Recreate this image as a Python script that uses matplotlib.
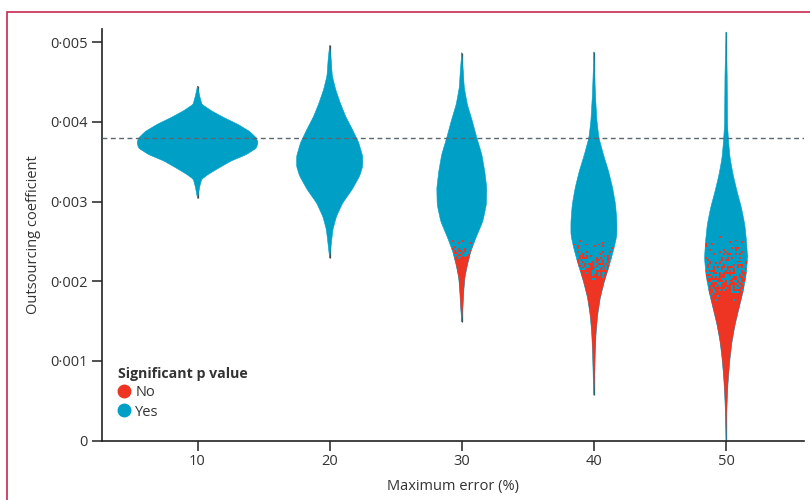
import numpy as np
import matplotlib
matplotlib.use('Agg')
import matplotlib.pyplot as plt
from matplotlib.patches import Polygon, Rectangle
from matplotlib.lines import Line2D

plt.rcParams['font.family'] = ['Open Sans', 'DejaVu Sans']

# ---------------- data ----------------
groups = [10, 20, 30, 40, 50]
y_ticks = [0, 0.001, 0.002, 0.003, 0.004, 0.005]
y_tick_labels = ['0', '0·001', '0·002', '0·003', '0·004', '0·005']
reference_value = 0.0038

# violin outlines: coefficient levels (top -> bottom) and half-widths (x units)
v10_y = [0.00445, 0.00432, 0.00422, 0.00414, 0.00405, 0.00397, 0.00388, 0.00380, 0.00374,
         0.00367, 0.00359, 0.00351, 0.00342, 0.00334, 0.00328, 0.00319, 0.00304]
v10_w = [0, 0.17, 0.34, 1.05, 2.05, 3.05, 3.95, 4.45, 4.58, 4.45, 3.70, 2.55, 1.60, 0.80,
         0.32, 0.17, 0]
v20_y = [0.00496, 0.00479, 0.00458, 0.00441, 0.00424, 0.00407, 0.00390, 0.00374, 0.00357,
         0.00344, 0.00332, 0.00315, 0.00298, 0.00281, 0.00265, 0.00248, 0.00229]
v20_w = [0, 0.11, 0.20, 0.45, 0.80, 1.21, 1.74, 2.20, 2.50, 2.50, 2.27, 1.70, 0.98, 0.51,
         0.25, 0.13, 0]
v30_y = [0.00487, 0.00464, 0.00443, 0.00422, 0.00401, 0.00380, 0.00359, 0.00338, 0.00317,
         0.00296, 0.00275, 0.00254, 0.00237, 0.00220, 0.00204, 0.00187, 0.00166, 0.00149]
v30_w = [0, 0.11, 0.19, 0.42, 0.80, 1.14, 1.52, 1.74, 1.89, 1.86, 1.59, 1.06, 0.68, 0.42,
         0.23, 0.15, 0.08, 0]
v40_y = [0.00488, 0.00435, 0.00401, 0.00380, 0.00359, 0.00338, 0.00317, 0.00296, 0.00275,
         0.00258, 0.00241, 0.00220, 0.00199, 0.00179, 0.00157, 0.00136, 0.00111, 0.00078,
         0.00057]
v40_w = [0, 0.11, 0.23, 0.38, 0.72, 1.11, 1.42, 1.64, 1.74, 1.74, 1.52, 1.17, 0.78, 0.48,
         0.28, 0.17, 0.10, 0.05, 0]
v50_y = [0.00513, 0.00460, 0.00397, 0.00376, 0.00355, 0.00334, 0.00313, 0.00292, 0.00271,
         0.00250, 0.00229, 0.00208, 0.00187, 0.00166, 0.00145, 0.00124, 0.00103, 0.00082,
         0.00061, 0.00036, 0.00001]
v50_w = [0, 0.08, 0.11, 0.19, 0.30, 0.53, 0.83, 1.17, 1.42, 1.55, 1.63, 1.52, 1.29, 0.98,
         0.68, 0.45, 0.30, 0.19, 0.11, 0.05, 0]

# non-significant ("No") zone: first red points / fully red below
red_start = [None, None, 0.00256, 0.00258, 0.00264]
red_full = [None, None, 0.00222, 0.00200, 0.00174]

outline_y = [v10_y, v20_y, v30_y, v40_y, v50_y]
outline_w = [v10_w, v20_w, v30_w, v40_w, v50_w]

# ---------------- style ----------------
BLUE = '#00A0C6'
RED = '#EE3524'
TXT = '#333333'

fig = plt.figure(figsize=(8.1, 5.0), dpi=100)
ax = fig.add_axes([0.1259, 0.119, 0.8667, 0.8224])

XLIM = (2.77, 55.9)
YLIM = (0, 0.005163)


def smooth_outline(ys, ws):
    ys = np.asarray(ys)[::-1]
    ws = np.asarray(ws)[::-1]
    fine = np.linspace(ys[0], ys[-1], 400)
    w = np.interp(fine, ys, ws)
    k = np.ones(9) / 9
    wpad = np.pad(w, 4, mode='edge')
    w = np.convolve(wpad, k, mode='valid')
    w[0] = 0
    w[-1] = 0
    return fine, w


# deterministic hash texture used as a dithering threshold (speckle look)
def threshold_map(nr, nc, offset):
    i = np.arange(nr)[:, None].astype(float) + offset
    j = np.arange(nc)[None, :].astype(float) + 3.1 * offset
    v = np.sin(i * 12.9898 + j * 78.233) * 43758.5453
    return v - np.floor(v)


for g, ys, ws, rs, rf in zip(groups, outline_y, outline_w, red_start, red_full):
    # thin dark range line
    ax.plot([g, g], [min(ys), max(ys)], color='#444444', lw=0.9, zorder=2,
            solid_capstyle='butt')
    fy, fw = smooth_outline(ys, ws)
    xs = np.concatenate([g - fw, (g + fw)[::-1]])
    yy = np.concatenate([fy, fy[::-1]])
    poly = Polygon(np.column_stack([xs, yy]), closed=True, facecolor=BLUE,
                   edgecolor=BLUE, lw=0.4, zorder=3)
    ax.add_patch(poly)
    if rs is not None:
        maxw = max(ws)
        y0, y1 = min(ys), rs
        px_w = 2 * maxw * 13.21
        px_h = (y1 - y0) * 79640
        nc = max(int(px_w / 1.9), 2)
        nr = max(int(px_h / 1.9), 2)
        yc = y1 - (np.arange(nr) + 0.5) / nr * (y1 - y0)
        frac = np.clip((rs - yc) / (rs - rf), 0, 1) ** 1.6
        thr = threshold_map(nr, nc, g)
        mask = frac[:, None] > thr
        rgba = np.zeros((nr, nc, 4))
        rgb = matplotlib.colors.to_rgb(RED)
        rgba[..., 0] = rgb[0]
        rgba[..., 1] = rgb[1]
        rgba[..., 2] = rgb[2]
        rgba[..., 3] = mask.astype(float)
        im = ax.imshow(rgba, extent=[g - maxw, g + maxw, y0, y1], origin='upper',
                       aspect='auto', interpolation='nearest', zorder=4)
        im.set_clip_path(poly)

ax.axhline(reference_value, color='#5B6670', lw=1.0, ls=(0, (3.5, 2.5)), zorder=5)

ax.set_xlim(*XLIM)
ax.set_ylim(*YLIM)
ax.set_xticks(groups)
ax.set_xticklabels([str(g) for g in groups])
ax.set_yticks(y_ticks)
ax.set_yticklabels(y_tick_labels)
ax.tick_params(axis='both', direction='out', length=7, width=1.1, color='#222222',
               labelsize=10.5, labelcolor=TXT, pad=3)
for s in ['top', 'right']:
    ax.spines[s].set_visible(False)
for s in ['left', 'bottom']:
    ax.spines[s].set_color('#222222')
    ax.spines[s].set_linewidth(1.2)

ax.set_xlabel('Maximum error (%)', fontsize=10.5, color=TXT, labelpad=7)
ax.set_ylabel('Outsourcing coefficient', fontsize=10.5, color=TXT, labelpad=7)

handles = [Line2D([], [], marker='o', ls='', color=RED, markersize=9),
           Line2D([], [], marker='o', ls='', color=BLUE, markersize=9)]
leg = ax.legend(handles, ['No', 'Yes'], title='Significant p value', loc='upper left',
                bbox_to_anchor=(0.012, 0.197), frameon=False, borderpad=0,
                handlelength=0.9, handletextpad=0.3, labelspacing=0.3,
                fontsize=10.5, title_fontproperties={'weight': 'bold', 'size': 10.2},
                alignment='left')
for t in leg.get_texts():
    t.set_color(TXT)
leg.get_title().set_color(TXT)

fig.add_artist(Rectangle((7 / 810, -0.1), 1.2, 1.1 - 12 / 500, transform=fig.transFigure,
                         fill=False, edgecolor='#C8284F', lw=1.2, clip_on=False))

fig.savefig('out.png', dpi=100)
